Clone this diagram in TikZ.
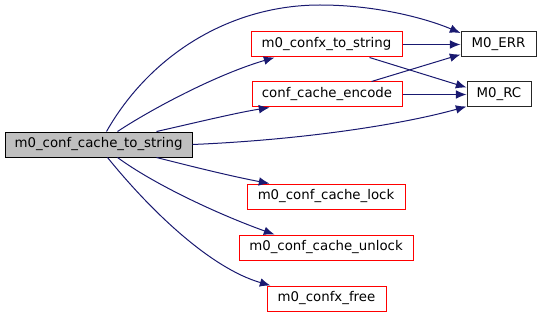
\documentclass[tikz,border=0pt]{standalone}
\usepackage{fontspec}
\setmainfont{DejaVu Sans}
\usetikzlibrary{arrows.meta,calc}
\definecolor{edgeblue}{HTML}{191970}
\definecolor{rootfill}{HTML}{BFBFBF}
\begin{document}
\begin{tikzpicture}[x=0.75pt,y=-0.75pt,
  fn/.style={draw=red,line width=0.75pt,rectangle,minimum height=18.75pt,inner sep=0pt,
    font=\fontsize{10pt}{12pt}\selectfont},
  ext/.style={fn,draw=black!85},
  root/.style={fn,draw=black,fill=rootfill},
  call/.style={draw=edgeblue,line width=0.75pt,-{Latex[length=8pt,width=6.5pt]}}]
\useasboundingbox (0,0) rectangle (541,317);

% functions
\node[root,minimum width=140.25pt] (main)   at (98.5,144.5) {m0\_conf\_cache\_to\_string};
\node[fn,minimum width=113.25pt]   (confx)  at (326.5,44.5) {m0\_confx\_to\_string};
\node[fn,minimum width=112.5pt]    (enc)    at (327,94.5)   {conf\_cache\_encode};
\node[ext,minimum width=56.25pt]   (err)    at (498.5,44.5) {M0\_ERR};
\node[ext,minimum width=48pt]      (rc)     at (499,94.5)   {M0\_RC};
\node[fn,minimum width=118.5pt]    (lock)   at (326,196.5)  {m0\_conf\_cache\_lock};
\node[fn,minimum width=130.5pt]    (unlock) at (326,247.5)  {m0\_conf\_cache\_unlock};
\node[fn,minimum width=89.25pt]    (free)   at (326.5,298.5){m0\_confx\_free};

% calls from the root function
\draw[call] ($(main.north west)+(102,0)$) .. controls (150,55) and (230,5) .. (320,5)
  .. controls (380,5) and (430,20) .. ($(err.north west)+(0,1.5)$);
\draw[call] ($(main.north west)+(113,0)$) .. controls (150,110) and (215,75) .. ($(confx.south west)+(24,0)$);
\draw[call] ($(main.north west)+(152,0)$) .. controls (190,124) and (235,113) .. ($(enc.south west)+(18,0)$);
\draw[call] (main.east) .. controls (300,140) and (400,125) .. ($(rc.south west)+(0,-1)$);
\draw[call] ($(main.south west)+(152,0)$) .. controls (190,166) and (230,176) .. ($(lock.north west)+(23,0)$);
\draw[call] ($(main.south west)+(113,0)$) .. controls (155,185) and (220,215) .. ($(unlock.north west)+(36,0)$);
\draw[call] ($(main.south west)+(103,0)$) .. controls (150,210) and (210,268) .. ($(free.north west)+(4,0)$);

% calls from the helpers
\draw[call] (confx.east) -- (err.west);
\draw[call] ($(confx.south west)+(119,0)$) -- ($(rc.west)+(0,-7)$);
\draw[call] ($(enc.north west)+(120,0)$) -- ($(err.south west)+(0,-3)$);
\draw[call] (enc.east) -- (rc.west);
\end{tikzpicture}
\end{document}
